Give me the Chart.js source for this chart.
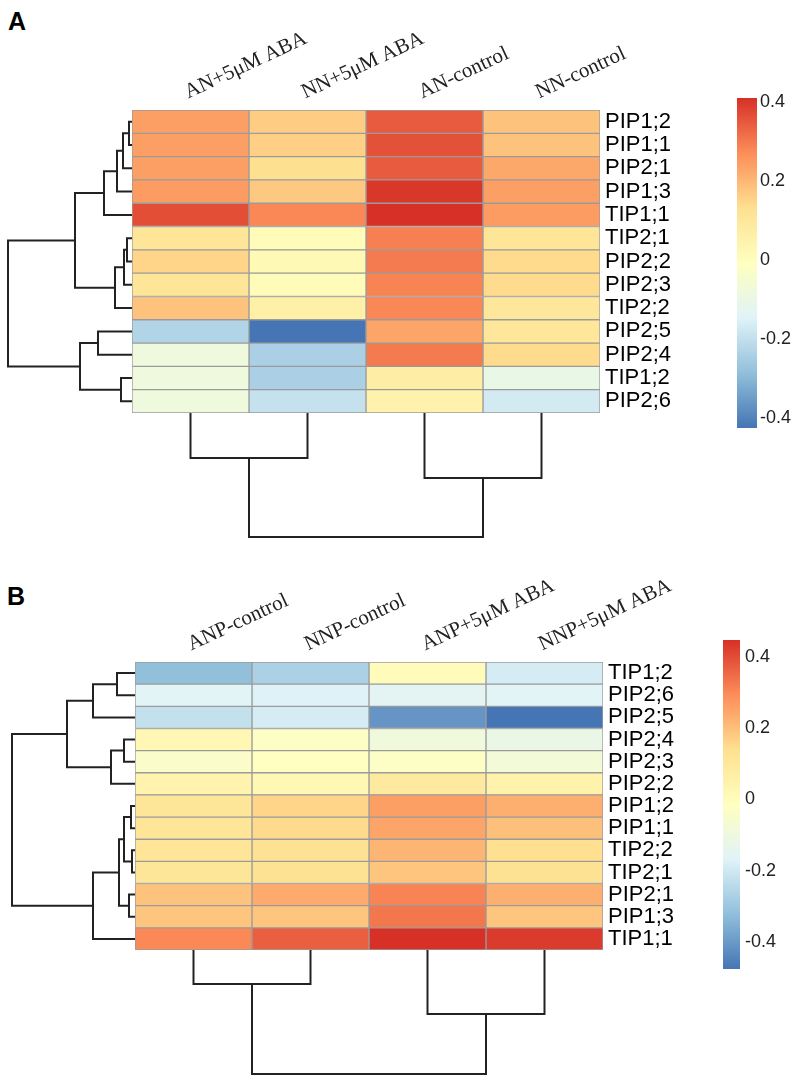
<!DOCTYPE html>
<html>
<head>
<meta charset="utf-8">
<script src="https://cdn.jsdelivr.net/npm/chart.js@4.4.1/dist/chart.umd.min.js"></script>
<style>
  body { margin: 0; background: #fff; }
  #page { position: relative; width: 800px; height: 1082px; overflow: hidden; background: #fff; }
  #page canvas { position: absolute; }
  .panel-tag { position: absolute; font: bold 25px 'Liberation Sans', Arial, sans-serif; line-height: 1; color: #000; }
</style>
</head>
<body>
<div id="page">
  <div class="panel-tag" style="left:8px;top:9px">A</div>
  <div class="panel-tag" style="left:7px;top:584px">B</div>
</div>
<script>
// --- Panel A data ---
const rowsA = ['PIP1;2', 'PIP1;1', 'PIP2;1', 'PIP1;3', 'TIP1;1', 'TIP2;1', 'PIP2;2', 'PIP2;3', 'TIP2;2', 'PIP2;5', 'PIP2;4', 'TIP1;2', 'PIP2;6'];
const colsA = ['AN+5μM ABA', 'NN+5μM ABA', 'AN-control', 'NN-control'];
const anAba  = [0.24, 0.24, 0.24, 0.245, 0.365, 0.11, 0.15, 0.11, 0.18, -0.23, -0.08, -0.08, -0.08];
const nnAba  = [0.165, 0.16, 0.13, 0.17, 0.28, 0.01, 0.02, 0.01, 0.06, -0.425, -0.24, -0.24, -0.195];
const anCtrl = [0.345, 0.36, 0.345, 0.40, 0.41, 0.29, 0.30, 0.285, 0.28, 0.23, 0.30, 0.07, 0.05];
const nnCtrl = [0.18, 0.18, 0.225, 0.24, 0.245, 0.11, 0.14, 0.14, 0.10, 0.10, 0.14, -0.105, -0.17];
// hclust style merges: negative = leaf (1-based), positive = earlier merge; last value = height
const rowMergeA = [[-1, -2, 3], [1, -3, 9], [2, -4, 15], [3, -5, 28], [-6, -7, 5], [5, -8, 8], [6, -9, 17], [4, 7, 57], [-10, -11, 34], [-12, -13, 11], [9, 10, 52], [8, 11, 124]];
const colMergeA = [[-1, -2, 45], [-3, -4, 65], [1, 2, 124]];

// --- Panel B data ---
const rowsB = ['TIP1;2', 'PIP2;6', 'PIP2;5', 'PIP2;4', 'PIP2;3', 'PIP2;2', 'PIP1;2', 'PIP1;1', 'TIP2;2', 'TIP2;1', 'PIP2;1', 'PIP1;3', 'TIP1;1'];
const colsB = ['ANP-control', 'NNP-control', 'ANP+5μM ABA', 'NNP+5μM ABA'];
const anpCtrl = [-0.32, -0.16, -0.225, 0.025, -0.04, 0.045, 0.11, 0.115, 0.115, 0.11, 0.195, 0.19, 0.30];
const nnpCtrl = [-0.27, -0.17, -0.19, -0.03, -0.02, 0.02, 0.16, 0.15, 0.13, 0.13, 0.24, 0.19, 0.37];
const anpAba  = [0.0, -0.155, -0.41, -0.09, -0.03, 0.09, 0.26, 0.25, 0.22, 0.19, 0.31, 0.33, 0.448];
const nnpAba  = [-0.19, -0.16, -0.476, -0.12, -0.08, 0.05, 0.23, 0.20, 0.14, 0.13, 0.23, 0.19, 0.43];
const rowMergeB = [[-1, -2, 18], [1, -3, 42], [-4, -5, 11], [3, -6, 24], [2, 4, 68], [-7, -8, 4], [-9, -10, 3], [6, 7, 11], [-11, -12, 6], [8, 9, 16], [10, -13, 42], [5, 11, 123]];
const colMergeB = [[-1, -2, 34], [-3, -4, 64], [1, 2, 124]];

// --- Colour key ---
const keyTicks = [-0.4, -0.2, 0, 0.2, 0.4];
const keyTickLabels = ['-0.4', '-0.2', '0', '0.2', '0.4'];
const palette = ['#4575B4', '#91BFDB', '#E0F3F8', '#FFFFBF', '#FEE090', '#FC8D59', '#D73027'];

const hexRgb = h => [1, 3, 5].map(i => parseInt(h.slice(i, i + 2), 16));

function colorFor(v, lo, hi) {
    const t = Math.max(0, Math.min(1, (v - lo) / (hi - lo))) * (palette.length - 1);
    const i = Math.min(Math.floor(t), palette.length - 2);
    const f = t - i;
    const a = hexRgb(palette[i]), b = hexRgb(palette[i + 1]);
    const c = a.map((x, k) => Math.round(x + (b[k] - x) * f));
    return `rgb(${c[0]}, ${c[1]}, ${c[2]})`;
}

function addCanvas(left, top, w, h) {
    const c = document.createElement('canvas');
    c.width = w;
    c.height = h;
    c.style.left = left + 'px';
    c.style.top = top + 'px';
    document.getElementById('page').appendChild(c);
    return c;
}

const common = {
    responsive: false,
    animation: false,
    events: [],
    plugins: { legend: { display: false }, tooltip: { enabled: false } }
};

function renderHeatmap(el, rows, cols, values, area) {
    const all = values.flat();
    const lo = Math.min(...all), hi = Math.max(...all);
    new Chart(el, {
        type: 'bar',
        data: {
            labels: rows,
            datasets: cols.map((col, j) => ({
                label: col,
                data: rows.map(() => [j, j + 1]),
                backgroundColor: values[j].map(v => colorFor(v, lo, hi)),
                borderColor: '#9b9b9b',
                borderWidth: 1,
                borderSkipped: false,
                barPercentage: 1,
                categoryPercentage: 1,
                grouped: false
            }))
        },
        options: {
            ...common,
            indexAxis: 'y',
            layout: { padding: { left: area.left, top: 0, right: 0, bottom: el.height - area.bottom } },
            scales: {
                x: { type: 'linear', min: 0, max: cols.length, display: false },
                cols: {
                    axis: 'x',
                    type: 'category',
                    labels: cols,
                    position: 'top',
                    offset: true,
                    grid: { display: false },
                    border: { display: false },
                    ticks: {
                        autoSkip: false,
                        minRotation: 25,
                        maxRotation: 25,
                        padding: -3,
                        labelOffset: 6,
                        color: '#222',
                        font: { family: "'Liberation Serif', 'Times New Roman', serif", size: 21 }
                    },
                    afterFit: s => { s.height = area.top; s.paddingLeft = 0; s.paddingRight = 0; }
                },
                y: {
                    position: 'right',
                    grid: { display: false },
                    border: { display: false },
                    ticks: {
                        autoSkip: false,
                        padding: -3,
                        color: '#000',
                        font: { family: "'Liberation Sans', Arial, sans-serif", size: 22 }
                    },
                    afterFit: s => { s.width = el.width - area.right; s.paddingTop = 0; s.paddingBottom = 0; }
                }
            }
        }
    });
    return { lo, hi };
}

// segments of a dendrogram, one polyline per merge
function dendroLines(merges, rowwise) {
    const pos = [], hgt = [];
    const node = k => k < 0 ? { p: -k - 0.5, h: 0 } : { p: pos[k - 1], h: hgt[k - 1] };
    return merges.map(([a, b, h], i) => {
        const na = node(a), nb = node(b);
        pos[i] = (na.p + nb.p) / 2;
        hgt[i] = h;
        const pts = [[na.h, na.p], [h, na.p], [h, nb.p], [nb.h, nb.p]];
        return pts.map(([hh, pp]) => rowwise ? { x: hh, y: pp } : { x: pp, y: hh });
    });
}

function renderDendrogram(el, merges, leaves, rowwise) {
    const lines = dendroLines(merges, rowwise);
    const hAxis = { type: 'linear', min: 0, max: rowwise ? el.width : el.height, reverse: true, display: false };
    const lAxis = { type: 'linear', min: 0, max: leaves, reverse: rowwise, display: false };
    new Chart(el, {
        type: 'scatter',
        data: {
            datasets: lines.map(pts => ({
                data: pts,
                showLine: true,
                borderColor: '#222',
                borderWidth: 2,
                pointRadius: 0,
                tension: 0,
                clip: false
            }))
        },
        options: {
            ...common,
            layout: { padding: 0 },
            scales: rowwise ? { x: hAxis, y: lAxis } : { x: lAxis, y: hAxis }
        }
    });
}

function renderColorKey(el, range, barWidth, padY, tickPad) {
    const { lo, hi } = range;
    new Chart(el, {
        type: 'bar',
        data: {
            labels: [''],
            datasets: [{
                data: [[lo, hi]],
                backgroundColor: ctx => {
                    const chart = ctx.chart;
                    if (!chart.chartArea) return palette[3];
                    const ys = chart.scales.y;
                    const g = chart.ctx.createLinearGradient(0, ys.getPixelForValue(lo), 0, ys.getPixelForValue(hi));
                    palette.forEach((c, i) => g.addColorStop(i / (palette.length - 1), c));
                    return g;
                },
                borderWidth: 0,
                barPercentage: 1,
                categoryPercentage: 1
            }]
        },
        options: {
            ...common,
            layout: { padding: { top: padY, bottom: padY, left: 0, right: 0 } },
            scales: {
                x: { display: false },
                y: {
                    position: 'right',
                    min: lo,
                    max: hi,
                    grid: { display: false },
                    border: { display: false },
                    afterBuildTicks: s => { s.ticks = keyTicks.map(v => ({ value: v })); },
                    ticks: {
                        padding: tickPad,
                        color: '#222',
                        font: { family: "'Liberation Sans', Arial, sans-serif", size: 18 },
                        callback: (v, i) => keyTickLabels[i]
                    },
                    afterFit: s => { s.width = el.width - barWidth; s.paddingTop = 0; s.paddingBottom = 0; }
                }
            }
        }
    });
}

// --- Panel A ---
const rangeA = renderHeatmap(addCanvas(0, 0, 800, 541), rowsA, colsA, [anAba, nnAba, anCtrl, nnCtrl],
    { left: 132, top: 110, right: 600, bottom: 413 });
renderDendrogram(addCanvas(0, 110, 132, 303), rowMergeA, rowsA.length, true);
renderDendrogram(addCanvas(132, 413, 468, 128), colMergeA, colsA.length, false);
renderColorKey(addCanvas(737, 88, 63, 350), rangeA, 20, 10, -5);

// --- Panel B ---
const rangeB = renderHeatmap(addCanvas(0, 541, 800, 541), rowsB, colsB, [anpCtrl, nnpCtrl, anpAba, nnpAba],
    { left: 135, top: 121, right: 603, bottom: 409 });
renderDendrogram(addCanvas(0, 662, 135, 288), rowMergeB, rowsB.length, true);
renderDendrogram(addCanvas(135, 950, 468, 132), colMergeB, colsB.length, false);
renderColorKey(addCanvas(723, 630, 77, 349), rangeB, 17, 10, -3);
</script>
</body>
</html>
